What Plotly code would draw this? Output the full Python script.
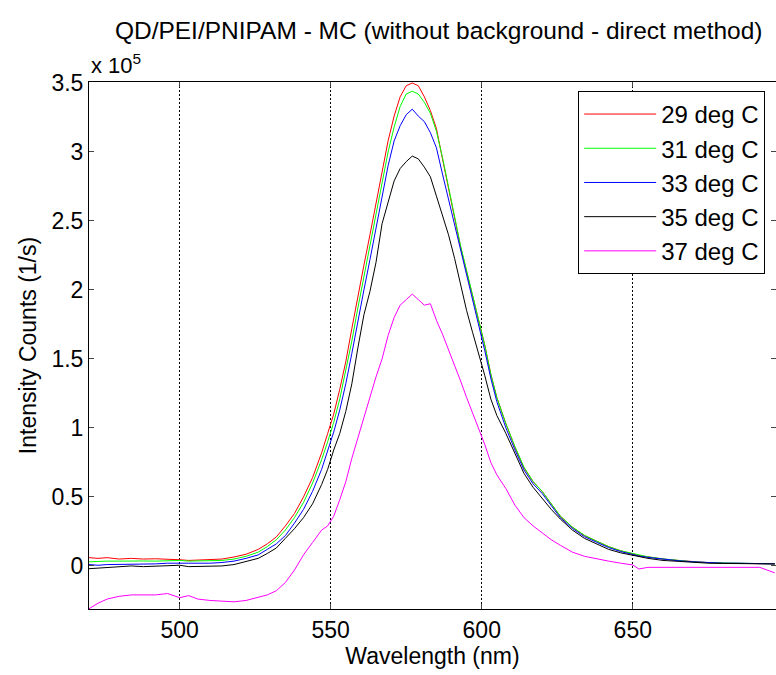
import plotly.graph_objects as go

# Wavelength (nm)
wavelength = [470, 473, 476, 480, 484, 488, 492, 496, 500, 503, 506, 510, 514, 518, 522, 526,
              529, 532, 535, 538, 541, 544, 547, 549, 551, 553, 555, 557, 559, 561, 563, 565,
              567, 569, 571, 573, 575, 577, 579, 581, 583, 585, 587, 589, 591, 593, 595, 597,
              599, 601, 603, 605, 608, 611, 614, 617, 620, 623, 626, 630, 634, 638, 642, 646,
              650, 652, 655, 660, 665, 670, 675, 680, 685, 690, 692, 697]

# Intensity counts in units of 1e5 (1/s)
t29 = [0.060, 0.055, 0.060, 0.050, 0.055, 0.050, 0.052, 0.050, 0.045, 0.040, 0.042, 0.045, 0.050, 0.065, 0.085, 0.120,
       0.160, 0.210, 0.290, 0.380, 0.500, 0.640, 0.820, 0.960, 1.100, 1.280, 1.480, 1.720, 1.960, 2.180, 2.400, 2.620,
       2.860, 3.080, 3.260, 3.400, 3.480, 3.500, 3.480, 3.400, 3.300, 3.170, 2.950, 2.740, 2.530, 2.310, 2.130, 1.960,
       1.780, 1.600, 1.390, 1.220, 1.030, 0.860, 0.710, 0.610, 0.540, 0.450, 0.360, 0.280, 0.220, 0.180, 0.140, 0.110,
       0.087, 0.076, 0.066, 0.050, 0.040, 0.030, 0.024, 0.020, 0.020, 0.018, 0.018, 0.015]
t31 = [0.030, 0.035, 0.035, 0.035, 0.033, 0.036, 0.035, 0.040, 0.040, 0.035, 0.036, 0.035, 0.040, 0.050, 0.070, 0.100,
       0.140, 0.190, 0.260, 0.350, 0.460, 0.600, 0.770, 0.900, 1.040, 1.210, 1.410, 1.630, 1.870, 2.100, 2.320, 2.550,
       2.780, 3.000, 3.180, 3.330, 3.420, 3.440, 3.420, 3.360, 3.280, 3.150, 2.960, 2.750, 2.540, 2.320, 2.140, 1.960,
       1.780, 1.600, 1.390, 1.220, 1.030, 0.865, 0.715, 0.612, 0.540, 0.452, 0.362, 0.282, 0.222, 0.180, 0.140, 0.110,
       0.088, 0.078, 0.066, 0.051, 0.040, 0.030, 0.024, 0.021, 0.020, 0.018, 0.018, 0.015]
t33 = [0.010, 0.005, 0.010, 0.010, 0.015, 0.010, 0.015, 0.020, 0.020, 0.015, 0.015, 0.020, 0.025, 0.035, 0.055, 0.080,
       0.120, 0.160, 0.220, 0.310, 0.410, 0.540, 0.700, 0.830, 0.970, 1.130, 1.320, 1.540, 1.780, 2.000, 2.220, 2.450,
       2.680, 2.900, 3.080, 3.190, 3.270, 3.310, 3.260, 3.220, 3.140, 3.030, 2.840, 2.660, 2.470, 2.280, 2.100, 1.920,
       1.750, 1.560, 1.360, 1.190, 1.000, 0.840, 0.695, 0.595, 0.525, 0.435, 0.350, 0.272, 0.212, 0.172, 0.133, 0.104,
       0.083, 0.072, 0.062, 0.048, 0.038, 0.030, 0.023, 0.020, 0.020, 0.018, 0.017, 0.015]
t35 = [-0.020, -0.015, -0.010, -0.005, 0.000, -0.005, 0.000, 0.000, 0.005, -0.005, -0.005, 0.000, 0.000, 0.010, 0.030, 0.055,
       0.090, 0.130, 0.200, 0.270, 0.350, 0.450, 0.590, 0.700, 0.840, 0.960, 1.120, 1.320, 1.580, 1.820, 1.990, 2.200,
       2.480, 2.640, 2.790, 2.880, 2.930, 2.970, 2.950, 2.890, 2.820, 2.680, 2.540, 2.400, 2.230, 2.030, 1.850, 1.690,
       1.540, 1.380, 1.210, 1.090, 0.960, 0.810, 0.670, 0.570, 0.490, 0.410, 0.340, 0.260, 0.200, 0.160, 0.120, 0.095,
       0.075, 0.065, 0.055, 0.040, 0.033, 0.025, 0.020, 0.018, 0.016, 0.016, 0.016, 0.015]
t37 = [-0.310, -0.270, -0.240, -0.220, -0.210, -0.210, -0.210, -0.200, -0.230, -0.215, -0.240, -0.250, -0.255, -0.260, -0.250, -0.230,
       -0.210, -0.180, -0.120, -0.030, 0.080, 0.170, 0.260, 0.290, 0.360, 0.480, 0.610, 0.780, 0.930, 1.070, 1.220, 1.370,
       1.500, 1.670, 1.800, 1.890, 1.930, 1.970, 1.930, 1.890, 1.900, 1.780, 1.680, 1.570, 1.460, 1.340, 1.220, 1.110,
       1.000, 0.880, 0.750, 0.660, 0.560, 0.440, 0.350, 0.290, 0.240, 0.190, 0.150, 0.100, 0.070, 0.050, 0.035, 0.020,
       0.007, -0.022, -0.010, -0.010, -0.010, -0.010, -0.010, -0.010, -0.010, -0.010, -0.010, -0.050]

series_names = ["29 deg C", "31 deg C", "33 deg C", "35 deg C", "37 deg C"]
series_values = [t29, t31, t33, t35, t37]
series_colors = ["#ff0000", "#00ff00", "#0000ff", "#000000", "#ff00ff"]

x_ticks = [500, 550, 600, 650]
y_ticks = [0, 0.5, 1, 1.5, 2, 2.5, 3, 3.5]
y_ticklabels = ["0", "0.5", "1", "1.5", "2", "2.5", "3", "3.5"]

FONT = "Liberation Sans, Arial, Helvetica, sans-serif"

fig = go.Figure()
for name, vals, col in zip(series_names, series_values, series_colors):
    fig.add_trace(go.Scatter(x=wavelength, y=vals, mode="lines", name=name,
                             legendgroup=name,
                             line=dict(color=col, width=1)))

fig.update_layout(
    width=776, height=675,
    paper_bgcolor="white", plot_bgcolor="white",
    margin=dict(l=89, r=0, t=82, b=66),
    font=dict(family=FONT, size=23, color="black"),
    title=dict(text="QD/PEI/PNIPAM - MC (without background - direct method)",
               x=(89 + 776) / 2 / 776 + 0.008, xanchor="center", y=1 - 30 / 675, yanchor="middle",
               font=dict(size=24.5, family=FONT, color="black")),
    showlegend=True,
    legend=dict(x=0.712, y=0.983, xanchor="left", yanchor="top",
                bgcolor="white", bordercolor="black", borderwidth=1,
                font=dict(size=24, family=FONT), itemwidth=72, tracegroupgap=1,
                traceorder="normal"),
    xaxis=dict(range=[470, 697.4], tickvals=x_ticks, ticks="inside", ticklen=5,
               showline=True, linecolor="black", linewidth=1, mirror="ticks",
               showgrid=True, gridcolor="black", gridwidth=1, griddash="2px,2px",
               zeroline=False, tickfont=dict(size=23),
               title=dict(text="Wavelength (nm)", font=dict(size=23), standoff=6)),
    yaxis=dict(range=[-0.312, 3.507], tickvals=y_ticks, ticktext=y_ticklabels,
               ticks="inside", ticklen=5,
               showline=True, linecolor="black", linewidth=1, mirror="ticks",
               showgrid=False, zeroline=False, tickfont=dict(size=23),
               title=dict(text="Intensity Counts (1/s)", font=dict(size=23), standoff=8)),
)

fig.add_annotation(text="x 10<sup>5</sup>", xref="paper", yref="paper",
                   x=0, y=1, xanchor="left", yanchor="bottom", yshift=2,
                   showarrow=False, font=dict(size=22, family=FONT))

fig.write_html("out.html", config={"displayModeBar": False},
               post_script="document.body.style.margin='0';document.body.style.overflow='hidden';")
